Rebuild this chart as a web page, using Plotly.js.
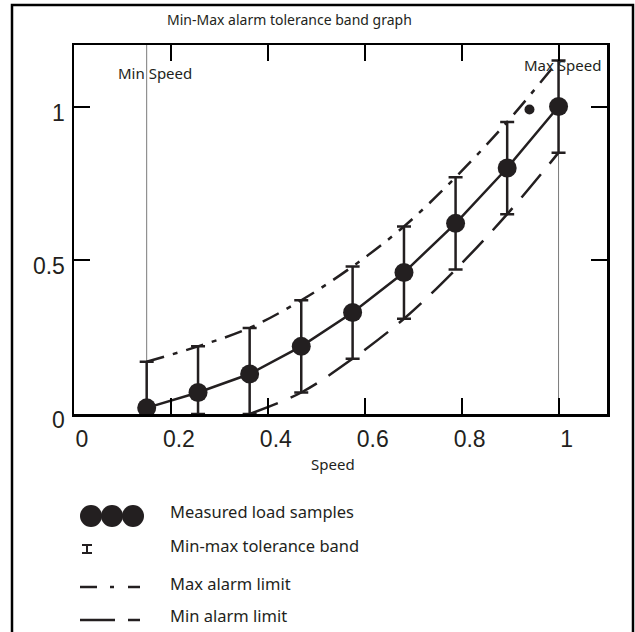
<!DOCTYPE html>
<html><head><meta charset="utf-8">
<script src="https://cdn.plot.ly/plotly-3.0.1.min.js"></script>
<style>html,body{margin:0;padding:0;background:#fff}</style>
</head><body><div id="chart" style="width:635px;height:632px"></div>
<script>
// ---- data ----
const speed    = [0.15, 0.256, 0.3625, 0.469, 0.575, 0.681, 0.7875, 0.894, 1.0];
const load     = [0.02, 0.07, 0.13, 0.22, 0.33, 0.46, 0.62, 0.80, 1.0];
const bandMax  = [0.17, 0.22, 0.28, 0.37, 0.48, 0.61, 0.77, 0.95, 1.15];
const bandMin  = [0, 0, 0, 0.07, 0.18, 0.31, 0.47, 0.65, 0.85];
const maxAlarmX = [0.15, 0.256, 0.3625, 0.469, 0.575, 0.681, 0.7875, 0.894, 1.0];
const maxAlarmY = [0.17, 0.22, 0.28, 0.37, 0.48, 0.61, 0.77, 0.95, 1.15];
const minAlarmX = [0.3625, 0.469, 0.575, 0.681, 0.7875, 0.894, 1.0];
const minAlarmY = [0, 0.07, 0.18, 0.31, 0.47, 0.65, 0.85];
const strayX = [0.94];
const strayY = [0.99];
const speedLimits = [0.15, 1.0];
const speedLimitNames = ['Min Speed', 'Max Speed'];
const xTickVals = [0, 0.2, 0.4, 0.6, 0.8, 1];
const xTickText = ['0', '0.2', '0.4', '0.6', '0.8', '1'];
const yTickVals = [0, 0.5, 1];
const yTickText = ['0', '0.5', '1'];
const legendLabels = ['Measured load samples', 'Min-max tolerance band', 'Max alarm limit', 'Min alarm limit'];
const chartTitle = 'Min-Max alarm tolerance band graph';
const xTitle = 'Speed';

// ---- layout geometry ----
const W = 635, H = 632;
const L = 74, R = 607, T = 45, B = 414;
const pw = R - L, ph = B - T;
const px = x => (x - L) / pw;
const py = y => (B - y) / ph;
const ink = '#231f20';
const txtFont = 'Noto Sans, Liberation Sans, Arial, sans-serif';

const traces = [
  { x: maxAlarmX, y: maxAlarmY, mode: 'lines', line: { color: ink, width: 2.5, dash: '18px,9px,5px,9px', shape: 'spline' }, hoverinfo: 'skip' },
  { x: minAlarmX, y: minAlarmY, mode: 'lines', line: { color: ink, width: 2.5, dash: '30px,14px', shape: 'spline' }, hoverinfo: 'skip' },
  { x: speed, y: load, mode: 'lines+markers',
    line: { color: ink, width: 2.5 },
    marker: { color: ink, size: 19 },
    error_y: { type: 'data', symmetric: false,
      array: bandMax.map((v, i) => v - load[i]),
      arrayminus: bandMin.map((v, i) => load[i] - v),
      color: ink, thickness: 2.5, width: 7 } },
  { x: strayX, y: strayY, mode: 'markers', marker: { color: ink, size: 10, symbol: 'circle' }, hoverinfo: 'skip' }
];

const shapes = [];
const annotations = [];
speedLimits.forEach(v => shapes.push({ type: 'line', xref: 'x', yref: 'paper', x0: v, x1: v, y0: 0, y1: 1, line: { color: '#7a7a7a', width: 1 }, layer: 'below' }));
annotations.push({ xref: 'paper', yref: 'paper', x: px(155), y: py(73), text: speedLimitNames[0], showarrow: false, xanchor: 'center', yanchor: 'middle', font: { family: txtFont, size: 15, color: ink } });
annotations.push({ xref: 'paper', yref: 'paper', x: px(562), y: py(65), text: speedLimitNames[1], showarrow: false, xanchor: 'center', yanchor: 'middle', font: { family: txtFont, size: 15, color: ink } });
annotations.push({ xref: 'paper', yref: 'paper', x: px(289), y: py(20), text: chartTitle, showarrow: false, xanchor: 'center', yanchor: 'middle', font: { family: txtFont, size: 14, color: ink } });
annotations.push({ xref: 'paper', yref: 'paper', x: px(333), y: py(464), text: xTitle, showarrow: false, xanchor: 'center', yanchor: 'middle', font: { family: txtFont, size: 15, color: ink } });
shapes.push({ type: 'rect', xref: 'paper', yref: 'paper', x0: px(12), x1: px(633), y0: py(645), y1: py(5), line: { color: '#000', width: 2.5 }, fillcolor: 'rgba(0,0,0,0)' });

const legY = [512, 545, 583, 615];
legendLabels.forEach((t, i) => annotations.push({ xref: 'paper', yref: 'paper', x: px(168), y: py(legY[i]), text: t, showarrow: false, xanchor: 'left', yanchor: 'middle', font: { family: txtFont, size: 16.5, color: ink } }));
[91, 112, 133].forEach(cx => shapes.push({ type: 'circle', xref: 'paper', yref: 'paper', x0: px(cx - 11), x1: px(cx + 11), y0: py(527), y1: py(505), fillcolor: ink, line: { color: ink, width: 0 } }));
shapes.push({ type: 'line', xref: 'paper', yref: 'paper', x0: px(87), x1: px(87), y0: py(553), y1: py(545), line: { color: ink, width: 2 } });
shapes.push({ type: 'line', xref: 'paper', yref: 'paper', x0: px(82), x1: px(92), y0: py(545), y1: py(545), line: { color: ink, width: 2 } });
shapes.push({ type: 'line', xref: 'paper', yref: 'paper', x0: px(82), x1: px(92), y0: py(553), y1: py(553), line: { color: ink, width: 2 } });
[[80, 97], [110, 114], [128, 140]].forEach(s => shapes.push({ type: 'line', xref: 'paper', yref: 'paper', x0: px(s[0]), x1: px(s[1]), y0: py(587), y1: py(587), line: { color: ink, width: 2.5 } }));
[[80, 115], [128, 140]].forEach(s => shapes.push({ type: 'line', xref: 'paper', yref: 'paper', x0: px(s[0]), x1: px(s[1]), y0: py(620), y1: py(620), line: { color: ink, width: 2.5 } }));

const axisCommon = { showgrid: false, zeroline: false, showline: true, mirror: 'ticks', linecolor: '#000', linewidth: 2.5,
  ticks: 'inside', ticklen: 16, tickwidth: 2, tickcolor: '#000', tickmode: 'array',
  tickfont: { family: 'Liberation Sans, Arial, sans-serif', size: 23, color: ink } };

const layout = {
  width: W, height: H, showlegend: false,
  paper_bgcolor: '#fff', plot_bgcolor: '#fff',
  margin: { l: L, r: W - R, t: T, b: H - B, pad: 0 },
  xaxis: Object.assign({}, axisCommon, { range: [0, 1.1], tickvals: xTickVals, ticktext: xTickText, ticklabelshift: 8, ticklabelstandoff: 3 }),
  yaxis: Object.assign({}, axisCommon, { range: [0, 1.2], tickvals: yTickVals, ticktext: yTickText, ticklabelshift: 6, ticklabelstandoff: 2 }),
  shapes: shapes, annotations: annotations
};

Plotly.newPlot('chart', traces, layout, { displayModeBar: false, staticPlot: true });
</script></body></html>
